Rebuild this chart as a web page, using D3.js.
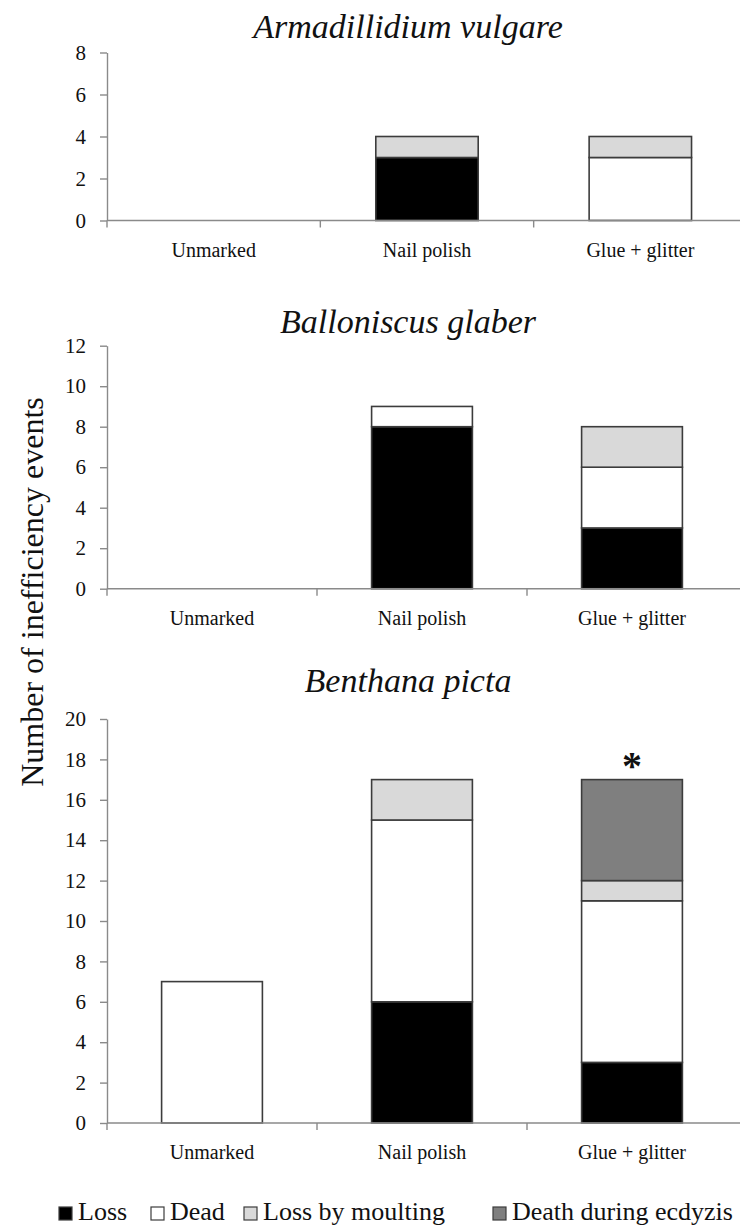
<!DOCTYPE html>
<html>
<head>
<meta charset="utf-8">
<script src="https://cdn.jsdelivr.net/npm/d3@7"></script>
<style>
  body { margin: 0; background: #fff; }
  svg { display: block; }
  svg text { font-family: "Liberation Serif", "Times New Roman", serif; fill: #111; }
</style>
</head>
<body>
<svg id="chart" width="740" height="1226"></svg>
<script>
// Data
const categories = ["Unmarked", "Nail polish", "Glue + glitter"];
const seriesNames = ["Loss", "Dead", "Loss by moulting", "Death during ecdyzis"];
const speciesNames = ["Armadillidium vulgare", "Balloniscus glaber", "Benthana picta"];
// one row per category, one column per series
const armadillidiumCounts = [[0, 0, 0, 0], [3, 0, 1, 0], [0, 3, 1, 0]];
const balloniscusCounts = [[0, 0, 0, 0], [8, 1, 0, 0], [3, 3, 2, 0]];
const benthanaCounts = [[0, 7, 0, 0], [6, 9, 2, 0], [3, 8, 1, 5]];
const yMaxima = [8, 12, 20];
const benthanaMarks = ["", "", "*"];

// Styles
const seriesColors = ["#000000", "#ffffff", "#d9d9d9", "#7f7f7f"];
const axisColor = "#8a8a8a";
const barStroke = "#3c3c3c";

// Panel geometry (pixels)
const panels = [
  { counts: armadillidiumCounts, marks: null, base: 220.5, top: 52.5, right: 747, titleY: 38 },
  { counts: balloniscusCounts, marks: null, base: 588.7, top: 345.7, right: 737, titleY: 333 },
  { counts: benthanaCounts, marks: benthanaMarks, base: 1123, top: 719, right: 737, titleY: 692 }
];
const axisX = 107;

const svg = d3.select("#chart");

const stack = d3.stack()
  .keys(d3.range(seriesNames.length))
  .value((d, k) => d[k]);

panels.forEach((p, pi) => {
  const g = svg.append("g");

  const x = d3.scaleBand()
    .domain(categories)
    .range([axisX, p.right])
    .paddingInner(0.52)
    .paddingOuter(0.26);

  const y = d3.scaleLinear()
    .domain([0, yMaxima[pi]])
    .range([p.base, p.top]);

  // title
  g.append("text")
    .attr("x", 408)
    .attr("y", p.titleY)
    .attr("text-anchor", "middle")
    .style("font-size", "34px")
    .style("font-style", "italic")
    .text(speciesNames[pi]);

  // y axis
  const yAxis = g.append("g")
    .attr("transform", "translate(" + axisX + ",0)")
    .call(d3.axisLeft(y)
      .tickValues(d3.range(0, yMaxima[pi] + 1, 2))
      .tickSize(7)
      .tickPadding(14)
      .tickSizeOuter(0));
  yAxis.attr("font-family", null).attr("font-size", null);
  yAxis.select(".domain").attr("stroke", axisColor).attr("stroke-width", 1.4);
  yAxis.selectAll(".tick line").attr("stroke", axisColor).attr("stroke-width", 1.4);
  yAxis.selectAll(".tick text")
    .style("font-size", "21px")
    .attr("fill", "#111");

  // stacked bars
  const layers = stack(p.counts);
  layers.forEach((layer, si) => {
    g.append("g")
      .selectAll("rect")
      .data(layer.map((seg, ci) => ({ seg: seg, cat: categories[ci] })).filter(d => d.seg[1] > d.seg[0]))
      .join("rect")
      .attr("x", d => x(d.cat))
      .attr("width", x.bandwidth())
      .attr("y", d => y(d.seg[1]))
      .attr("height", d => y(d.seg[0]) - y(d.seg[1]))
      .attr("fill", seriesColors[si])
      .attr("stroke", barStroke)
      .attr("stroke-width", 1.6);
  });

  // x axis line and category boundary ticks
  const xAxis = g.append("g")
    .attr("transform", "translate(0," + p.base + ")")
    .call(d3.axisBottom(x).tickSize(0).tickPadding(22));
  xAxis.attr("font-family", null).attr("font-size", null);
  xAxis.select(".domain").remove();
  xAxis.selectAll(".tick text")
    .style("font-size", "20px")
    .attr("fill", "#111");

  g.append("line")
    .attr("x1", axisX).attr("x2", 740)
    .attr("y1", p.base).attr("y2", p.base)
    .attr("stroke", axisColor).attr("stroke-width", 1.4);

  const gap = x.step() * x.paddingInner();
  const bounds = [axisX].concat(categories.slice(1).map(c => x(c) - gap / 2));
  g.selectAll(".bound")
    .data(bounds)
    .join("line")
    .attr("x1", d => d).attr("x2", d => d)
    .attr("y1", p.base).attr("y2", p.base + 7)
    .attr("stroke", axisColor).attr("stroke-width", 1.4);

  // significance marks
  if (p.marks) {
    const totals = p.counts.map(r => d3.sum(r));
    g.selectAll(".mark")
      .data(categories.filter((c, ci) => p.marks[ci]))
      .join("text")
      .attr("x", c => x(c) + x.bandwidth() / 2)
      .attr("y", c => y(totals[categories.indexOf(c)]) - 1)
      .attr("text-anchor", "middle")
      .style("font-size", "40px")
      .style("font-weight", "bold")
      .text(c => p.marks[categories.indexOf(c)]);
  }
});

// y axis title
svg.append("text")
  .attr("transform", "translate(43,592) rotate(-90)")
  .attr("text-anchor", "middle")
  .style("font-size", "32px")
  .text("Number of inefficiency events");

// legend
const legendX = [59, 151, 244, 493];
const legend = svg.append("g");
seriesNames.forEach((name, i) => {
  legend.append("rect")
    .attr("x", legendX[i])
    .attr("y", 1207)
    .attr("width", 13)
    .attr("height", 13)
    .attr("fill", seriesColors[i])
    .attr("stroke", barStroke)
    .attr("stroke-width", 1.2);
  legend.append("text")
    .attr("x", legendX[i] + 19)
    .attr("y", 1220)
    .style("font-size", "26px")
    .text(name);
});
</script>
</body>
</html>
